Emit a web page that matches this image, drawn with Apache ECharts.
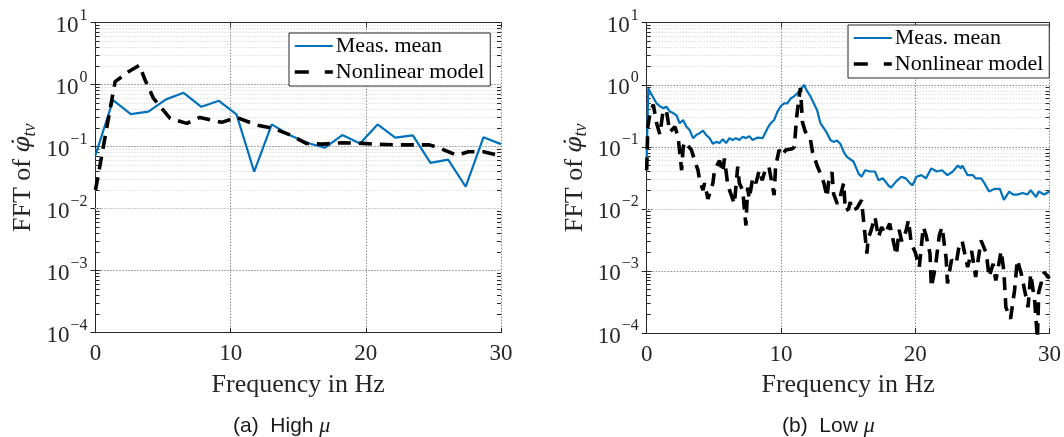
<!DOCTYPE html>
<html>
<head>
<meta charset="utf-8">
<script src="https://cdn.jsdelivr.net/npm/echarts@6/dist/echarts.min.js"></script>
<style>
  html, body { margin: 0; padding: 0; background: #fff; }
  #chart { width: 1064px; height: 437px; }
</style>
</head>
<body>
<div id="chart"></div>
<script>
// (a) High mu
var freqMeasA = [0, 1.30, 2.61, 3.91, 5.22, 6.52, 7.83, 9.13, 10.43, 11.74, 13.04, 14.35,
                 15.65, 16.96, 18.26, 19.57, 20.87, 22.17, 23.48, 24.78, 26.09, 27.39, 28.70, 30.0];
var measA = [0.073, 0.566, 0.336, 0.367, 0.58, 0.74, 0.44, 0.55, 0.333, 0.0395, 0.229, 0.154,
             0.116, 0.096, 0.154, 0.113, 0.229, 0.14, 0.152, 0.055, 0.062, 0.0226, 0.142, 0.11];
var freqModelA = [0, 1.45, 2.44, 3.25, 3.67, 4.29, 5.52, 6.75, 7.73, 9.33, 10.44, 11.92, 13.15,
                  14.4, 15.6, 16.8, 18.3, 19.8, 21.0, 22.3, 24.7, 25.5, 26.7, 27.6, 28.7, 30.0];
var modelA = [0.02, 1.12, 1.62, 2.07, 1.19, 0.60, 0.286, 0.238, 0.297, 0.247, 0.297, 0.224, 0.198,
              0.155, 0.113, 0.11, 0.116, 0.113, 0.109, 0.107, 0.107, 0.094, 0.073, 0.083, 0.083, 0.071];

// (b) Low mu
var freqMeasB = [0, 0.12, 0.37, 0.74, 0.98, 1.23, 1.48, 1.72, 1.97, 2.22, 2.46, 2.71, 2.96, 3.2,
                 3.45, 3.70, 3.94, 4.19, 4.43, 4.68, 4.93, 5.17, 5.42, 5.67, 5.91, 6.16, 6.41, 6.65,
                 6.9, 7.15, 7.39, 7.64, 7.89, 8.26, 8.63, 9.0, 9.24, 9.49, 9.74, 9.98, 10.23, 10.47,
                 10.72, 10.97, 11.22, 11.46, 11.71, 11.96, 12.2, 12.45, 12.69, 12.94, 13.19, 13.43,
                 13.68, 13.92, 14.17, 14.42, 14.67, 14.91, 15.4, 15.78, 16.0, 16.27, 16.64, 17.0,
                 17.26, 17.6, 17.99, 18.2, 18.6, 18.97, 19.3, 19.6, 19.8, 20.09, 20.45, 20.8, 21.2,
                 21.6, 22.0, 22.4, 22.8, 23.17, 23.4, 23.5, 23.9, 24.3, 24.5, 24.9, 25.15, 25.5,
                 25.9, 26.3, 26.6, 27.0, 27.3, 27.6, 28.0, 28.35, 28.6, 29.0, 29.2, 29.6, 30.0];
var measB = [0.069, 0.88, 0.69, 0.50, 0.45, 0.42, 0.44, 0.37, 0.35, 0.32, 0.24, 0.27, 0.21, 0.186,
             0.138, 0.155, 0.166, 0.182, 0.155, 0.138, 0.112, 0.12, 0.115, 0.132, 0.115, 0.138, 0.129, 0.138,
             0.129, 0.145, 0.138, 0.148, 0.129, 0.141, 0.138, 0.20, 0.24, 0.27, 0.37, 0.45, 0.50, 0.50,
             0.60, 0.65, 0.73, 0.83, 1.0, 0.78, 0.65, 0.50, 0.39, 0.24, 0.20, 0.166,
             0.129, 0.12, 0.126, 0.112, 0.083, 0.069, 0.058, 0.037, 0.033, 0.042, 0.040, 0.040,
             0.029, 0.031, 0.024, 0.022, 0.028, 0.033, 0.031, 0.026, 0.024, 0.033, 0.035, 0.031, 0.045,
             0.040, 0.042, 0.035, 0.040, 0.050, 0.045, 0.050, 0.035, 0.035, 0.031, 0.031, 0.026, 0.019,
             0.021, 0.021, 0.014, 0.019, 0.017, 0.017, 0.018, 0.017, 0.020, 0.0155, 0.019, 0.017, 0.019];
var freqModelB = [0, 0.08, 0.25, 0.49, 0.74, 0.98, 1.23, 1.48, 1.72, 2.1, 2.34, 2.6, 2.72, 2.84,
                  3.33, 3.57, 3.82, 3.94, 4.19, 4.31, 4.56, 4.93, 5.05, 5.42, 5.67, 5.79, 6.04, 6.53,
                  6.78, 6.9, 7.15, 7.39, 7.52, 7.64, 7.9, 8.14, 8.38, 8.6, 8.87, 9.1, 9.49, 9.6, 9.86,
                  10.1, 10.35, 10.85, 11.0, 11.15, 11.35, 11.45, 11.6, 11.8, 12.2, 12.35, 12.69, 12.94,
                  13.2, 13.43, 13.55, 13.8, 13.92, 14.2, 14.4, 14.67, 14.8, 15.04, 15.16, 15.28, 15.65,
                  16.0, 16.15, 16.4, 16.5, 16.64, 17.0, 17.26, 17.5, 17.75, 18.1, 18.4, 18.6, 18.8,
                  19.0, 19.3, 19.5, 19.7, 20.0, 20.3, 20.6, 20.8, 21.1, 21.2, 21.5, 21.8, 22.0, 22.3,
                  22.4, 22.7, 23.05, 23.3, 23.5, 23.9, 24.2, 24.5, 24.9, 25.3, 25.5, 25.8, 26.0, 26.4,
                  26.6, 26.75, 27.1, 27.4, 27.6, 27.9, 28.1, 28.4, 28.6, 28.9, 29.1, 29.2, 29.6, 30.0];
var modelB = [0.042, 0.21, 0.35, 0.48, 0.24, 0.158, 0.39, 0.37, 0.174, 0.21, 0.145, 0.042, 0.10, 0.12,
              0.089, 0.060, 0.042, 0.029, 0.020, 0.026, 0.0145, 0.026, 0.042, 0.060, 0.039, 0.065, 0.024, 0.012,
              0.048, 0.026, 0.020, 0.0054, 0.022, 0.0145, 0.032, 0.026, 0.042, 0.029, 0.045, 0.048, 0.0166, 0.048, 0.089,
              0.072, 0.089, 0.093, 0.10, 0.28, 0.63, 0.89, 0.25, 0.178, 0.129, 0.083, 0.050, 0.037,
              0.026, 0.0155, 0.027, 0.039, 0.0174, 0.012, 0.0155, 0.026, 0.0093, 0.010, 0.0129, 0.0095, 0.0102,
              0.0138, 0.0066, 0.0019, 0.0035, 0.0040, 0.0074, 0.0035, 0.0051, 0.0040, 0.0058, 0.0028, 0.0018, 0.0046,
              0.0030, 0.0043, 0.0066, 0.0028, 0.0020, 0.00115, 0.0051, 0.0038, 0.0019, 0.00055, 0.00115, 0.0038, 0.0051, 0.0016,
              0.00063, 0.0015, 0.0013, 0.0028, 0.0030, 0.00115, 0.0021, 0.0008, 0.0031, 0.0019, 0.0008, 0.0013, 0.0007, 0.0021,
              0.001, 0.00026, 0.00017, 0.00049, 0.0015, 0.0009, 0.00055, 0.00026, 0.0009, 0.00032, 0.00008, 0.00046, 0.00095, 0.00076];

var xTicks = [0, 10, 20, 30];
var yDecades = [1e-4, 1e-3, 1e-2, 1e-1, 1, 10];
var seriesNames = ['Meas. mean', 'Nonlinear model'];
var captions = ['(a)  High ', '(b)  Low '];

var blue = '#0072BD';
var axisColor = '#262626';
var serif = 'Liberation Serif';

// minor grid values 2..9 x 10^k
var minorVals = [];
for (var k = -4; k < 1; k++) {
    for (var m = 2; m <= 9; m++) minorVals.push(m * Math.pow(10, k));
}

function pairs(xs, ys) {
    return xs.map(function (x, i) { return [x, ys[i]]; });
}

function yLabel(v) {
    var e = Math.round(Math.log10(v));
    return '{b|10}{s|' + String(e).replace('-', '\u2212') + '}';
}

var labelRich = {
    b: { fontFamily: serif, fontSize: 23, color: axisColor, lineHeight: 30, verticalAlign: 'bottom' },
    s: { fontFamily: serif, fontSize: 16, color: axisColor, lineHeight: 18, verticalAlign: 'top', padding: [0, 0, 0, 1] }
};

function makeGridHelper(xi, yi) {
    var lines = [];
    minorVals.forEach(function (v) {
        lines.push({ yAxis: v, lineStyle: { color: '#cfcfcf', type: [1, 2], width: 1 } });
        lines.push([{ coord: [0, v] }, { coord: [0.3, v], lineStyle: { color: axisColor, type: 'solid', width: 1 } }]);
        lines.push([{ coord: [29.7, v] }, { coord: [30, v], lineStyle: { color: axisColor, type: 'solid', width: 1 } }]);
    });
    return {
        type: 'line', xAxisIndex: xi, yAxisIndex: yi, data: [], silent: true,
        markLine: { silent: true, symbol: 'none', z: 1, label: { show: false }, animation: false, data: lines }
    };
}

function bottomX(gi) {
    return {
        type: 'value', gridIndex: gi, min: 0, max: 30, interval: 10,
        name: 'Frequency in Hz', nameLocation: 'middle', nameGap: 39,
        nameTextStyle: { fontFamily: serif, fontSize: 26, color: axisColor },
        axisLine: { lineStyle: { color: axisColor } },
        axisTick: { inside: true, length: 5, lineStyle: { color: axisColor } },
        axisLabel: { fontFamily: serif, fontSize: 23, color: axisColor, margin: 10 },
        splitLine: { show: true, lineStyle: { color: '#555', type: [1, 2] } }
    };
}
function topX(gi) {
    return {
        type: 'value', gridIndex: gi, min: 0, max: 30, interval: 10, position: 'top',
        axisLine: { lineStyle: { color: axisColor } },
        axisTick: { inside: true, length: 5, lineStyle: { color: axisColor } },
        axisLabel: { show: false }, splitLine: { show: false }
    };
}
function leftY(gi) {
    return {
        type: 'log', logBase: 10, gridIndex: gi, min: 1e-4, max: 10,
        name: '{t|FFT of }{p|\u03C6\u0307}{sub|tv}', nameLocation: 'middle', nameGap: 56, nameRotate: 90,
        nameTextStyle: {
            rich: {
                t: { fontFamily: serif, fontSize: 26, color: axisColor, lineHeight: 32 },
                p: { fontFamily: 'DejaVu Serif', fontSize: 23, fontStyle: 'italic', color: axisColor, lineHeight: 32 },
                sub: { fontFamily: serif, fontSize: 18, fontStyle: 'italic', color: axisColor, lineHeight: 32, verticalAlign: 'bottom' }
            }
        },
        axisLine: { show: true, lineStyle: { color: axisColor } },
        axisTick: { inside: true, length: 5, lineStyle: { color: axisColor } },
        axisLabel: { formatter: yLabel, rich: labelRich, margin: 8 },
        splitLine: { show: true, lineStyle: { color: '#555', type: [1, 2] } }
    };
}
function rightY(gi) {
    return {
        type: 'log', logBase: 10, gridIndex: gi, min: 1e-4, max: 10, position: 'right',
        axisLine: { show: true, lineStyle: { color: axisColor } },
        axisTick: { inside: true, length: 5, lineStyle: { color: axisColor } },
        axisLabel: { show: false }, splitLine: { show: false }
    };
}

function measSeries(xi, yi, data) {
    return {
        name: seriesNames[0], type: 'line', xAxisIndex: xi, yAxisIndex: yi, data: data,
        symbol: 'none', z: 3, animation: false, clip: true,
        lineStyle: { color: blue, width: 2.2 }, itemStyle: { color: blue }
    };
}
function modelSeries(xi, yi, data) {
    return {
        name: seriesNames[1], type: 'line', xAxisIndex: xi, yAxisIndex: yi, data: data,
        symbol: 'none', z: 4, animation: false, clip: true,
        lineStyle: { color: '#000', width: 3.6, type: [13, 8] }, itemStyle: { color: '#000' }
    };
}

function legendAt(left, top) {
    return {
        data: [
            { name: seriesNames[0], lineStyle: { color: blue, width: 2.2, type: 'solid' } },
            { name: seriesNames[1], lineStyle: { color: '#000', width: 3.6, type: [14, 16] } }
        ],
        orient: 'vertical', left: left, top: top,
        itemWidth: 38, itemHeight: 14, itemGap: 2,
        padding: [1, 6, 2, 4], backgroundColor: '#fff', borderColor: axisColor, borderWidth: 1,
        itemStyle: { color: 'transparent', borderColor: 'transparent', borderWidth: 0 },
        textStyle: { fontFamily: serif, fontSize: 22, color: '#000', lineHeight: 24, padding: [0, 0, 0, -2] },
        selectedMode: false
    };
}

function captionAt(left, i) {
    return {
        text: captions[i] + '{m|\u03BC}', left: left, top: 410,
        textStyle: {
            fontFamily: 'Liberation Sans', fontSize: 21, fontWeight: 'normal', color: '#1a1a1a',
            rich: { m: { fontFamily: serif, fontStyle: 'italic', fontSize: 22, color: '#1a1a1a' } }
        }
    };
}

var option = {
    backgroundColor: '#fff',
    animation: false,
    title: [captionAt(228, 0), captionAt(777, 1)],
    legend: [legendAt(289, 33), legendAt(848, 25)],
    grid: [
        { left: 95.5, width: 405.5, top: 22.7, height: 310, containLabel: false },
        { left: 646.7, width: 405.6, top: 22.7, height: 310.3, containLabel: false }
    ],
    xAxis: [bottomX(0), topX(0), bottomX(1), topX(1)],
    yAxis: [leftY(0), rightY(0), leftY(1), rightY(1)],
    series: [
        makeGridHelper(0, 0),
        measSeries(0, 0, pairs(freqMeasA, measA)),
        modelSeries(0, 0, pairs(freqModelA, modelA)),
        makeGridHelper(2, 2),
        measSeries(2, 2, pairs(freqMeasB, measB)),
        modelSeries(2, 2, pairs(freqModelB, modelB))
    ]
};

var chart = echarts.init(document.getElementById('chart'));
chart.setOption(option);
</script>
</body>
</html>
